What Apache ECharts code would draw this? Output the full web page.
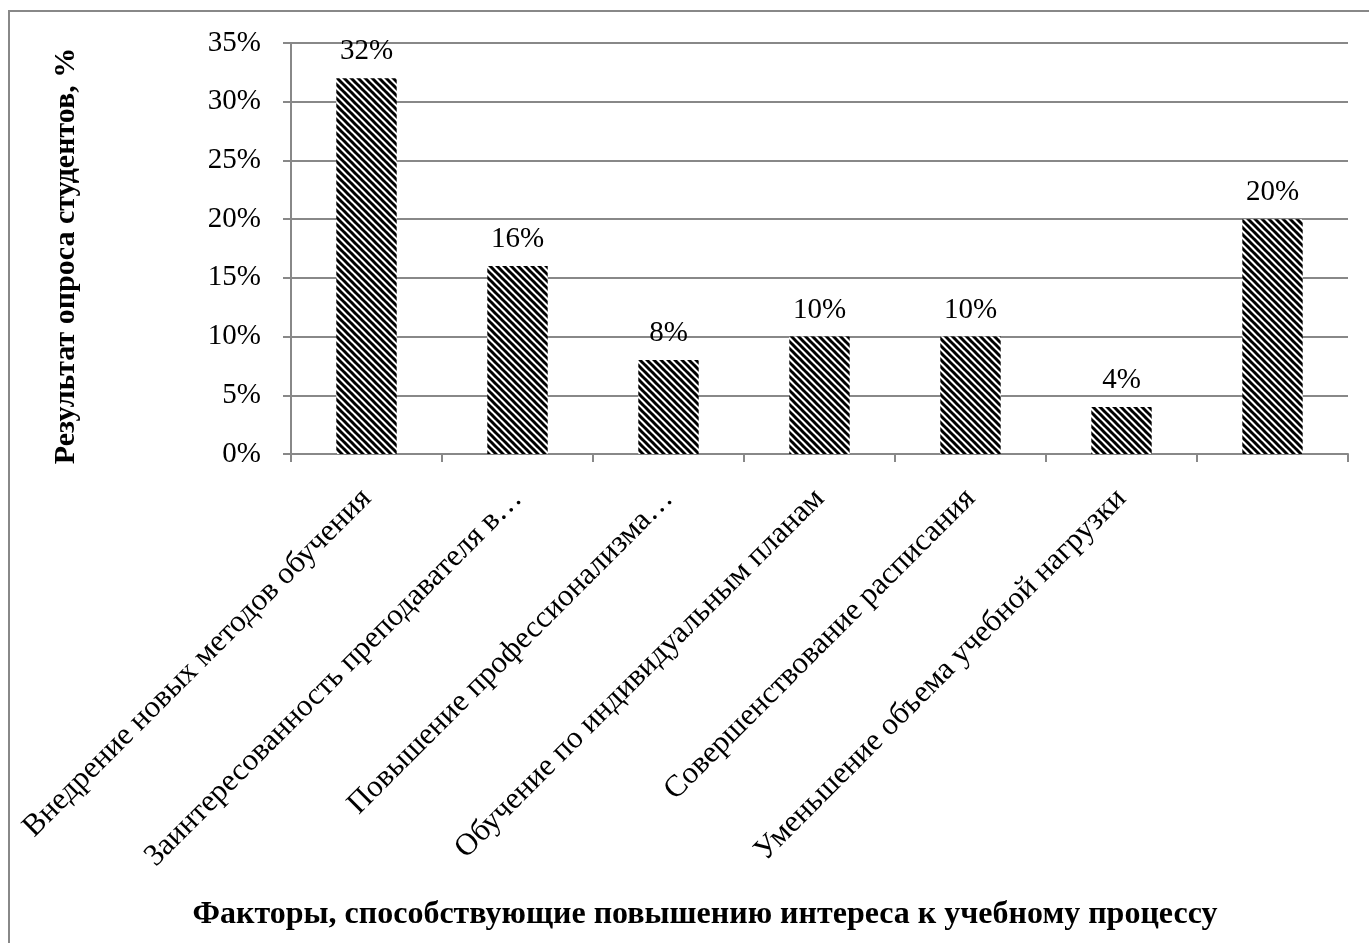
<!DOCTYPE html>
<html>
<head>
<meta charset="utf-8">
<script src="https://cdn.jsdelivr.net/npm/echarts@6/dist/echarts.min.js"></script>
<style>
  html, body { margin: 0; padding: 0; background: #fff; }
  #chart { width: 1369px; height: 943px; }
</style>
</head>
<body>
<div id="chart"></div>
<script>
// data
const categories = [
  "Внедрение новых методов обучения",
  "Заинтересованность преподавателя в…",
  "Повышение профессионализма…",
  "Обучение по индивидуальным планам",
  "Совершенствование расписания",
  "Уменьшение объема учебной нагрузки",
  ""
];
const values = [32, 16, 8, 10, 10, 4, 20];
const yTicks = [0, 5, 10, 15, 20, 25, 30, 35];

const xTitle = "Факторы, способствующие повышению интереса к учебному процессу";
const yTitle = "Результат опроса студентов, %";

// diagonal hatch fill
function hatch() {
  const s = 7;
  const c = document.createElement("canvas");
  c.width = s; c.height = s;
  const ctx = c.getContext("2d");
  ctx.fillStyle = "#fff";
  ctx.fillRect(0, 0, s, s);
  ctx.strokeStyle = "#000";
  ctx.lineWidth = 3;
  for (let k = -1; k <= 1; k++) {
    ctx.beginPath();
    ctx.moveTo(k * s - 1, -1);
    ctx.lineTo(k * s + s + 1, s + 1);
    ctx.stroke();
  }
  return c;
}

const font = "'Liberation Serif', 'Times New Roman', serif";
const gray = "#888888";

let myChart = echarts.init(document.getElementById("chart"));
let option = {
  animation: false,
  textStyle: { fontFamily: font },
  graphic: [
    {
      type: "rect",
      shape: { x: 9, y: 11, width: 1450, height: 1000 },
      style: { fill: "none", stroke: gray, lineWidth: 2 },
      silent: true
    },
    {
      type: "text",
      x: 705,
      y: 915,
      style: {
        text: xTitle, font: "bold 32px " + font, fill: "#000",
        align: "center", verticalAlign: "middle"
      }
    },
    {
      type: "text",
      rotation: Math.PI / 2,
      x: 66,
      y: 256,
      style: {
        text: yTitle, font: "bold 30px " + font, fill: "#000",
        align: "center", verticalAlign: "middle"
      }
    }
  ],
  grid: { left: 291, right: 21, top: 43, bottom: 489, containLabel: false },
  xAxis: {
    type: "category",
    data: categories,
    axisLine: { lineStyle: { color: gray, width: 2 } },
    axisTick: { show: true, length: 8, lineStyle: { color: gray, width: 2 } },
    axisLabel: {
      rotate: 45, interval: 0, margin: 40,
      color: "#000", fontSize: 31, fontFamily: font
    }
  },
  yAxis: {
    type: "value",
    min: yTicks[0],
    max: yTicks[yTicks.length - 1],
    interval: 5,
    axisLine: { show: true, lineStyle: { color: gray, width: 2 } },
    axisTick: { show: true, length: 8, lineStyle: { color: gray, width: 2 } },
    splitLine: { lineStyle: { color: gray, width: 2 } },
    axisLabel: {
      formatter: "{value}%", margin: 30,
      color: "#000", fontSize: 29, fontFamily: font
    }
  },
  series: [{
    type: "bar",
    data: values,
    barWidth: "40%",
    itemStyle: { color: { image: hatch(), repeat: "repeat" } },
    label: {
      show: true, position: "top", distance: 12,
      formatter: "{c}%", color: "#000", fontSize: 29, fontFamily: font
    }
  }]
};
myChart.setOption(option);
</script>
</body>
</html>
